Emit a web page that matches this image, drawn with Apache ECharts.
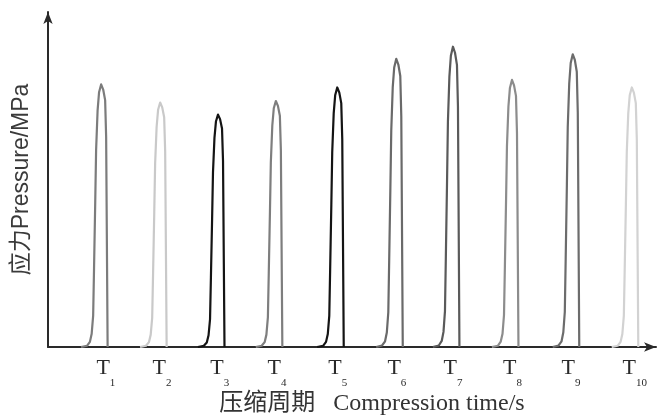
<!DOCTYPE html>
<html>
<head>
<meta charset="utf-8">
<script src="https://cdn.jsdelivr.net/npm/echarts@6/dist/echarts.min.js"></script>
<style>
html,body{margin:0;padding:0;background:#fff;}
#chart{width:664px;height:416px;}
</style>
</head>
<body>
<div id="chart"></div>
<script>
// Category labels (cycles) and where they sit on the time axis
var cycleLabels = ['1','2','3','4','5','6','7','8','9','10'];
var labelTimes = [0.98, 1.93, 2.91, 3.88, 4.91, 5.91, 6.86, 7.87, 8.86, 9.94];

// Pulse colours (grey shades)
var pulseColors = ['#7c7c7c','#c9c9c9','#141414','#7e7e7e','#141414','#6a6a6a','#5a5a5a','#8c8c8c','#6c6c6c','#d2d2d2'];

// Time (s) and pressure values of each pulse
var t1  = [0.56,0.66,0.71,0.74,0.765,0.78,0.80,0.815,0.84,0.865,0.90,0.935,0.968,0.985,1.01];
var p1  = [0,0.4,1.7,4.4,10.4,26.1,47.9,65.3,78.3,84.4,87,85.3,81.8,69.6,0];
var t2  = [1.56,1.66,1.71,1.74,1.765,1.78,1.80,1.815,1.84,1.865,1.90,1.935,1.968,1.985,2.01];
var p2  = [0,0.4,1.6,4.1,9.7,24.3,44.6,60.8,72.9,78.6,81,79.4,76.1,64.8,0];
var t3  = [2.54,2.64,2.69,2.72,2.745,2.76,2.78,2.795,2.82,2.845,2.88,2.915,2.948,2.965,2.99];
var p3  = [0,0.4,1.5,3.9,9.2,23.1,42.4,57.8,69.3,74.7,77,75.5,72.4,61.6,0];
var t4  = [3.52,3.62,3.67,3.70,3.725,3.74,3.76,3.775,3.80,3.825,3.86,3.895,3.928,3.945,3.97];
var p4  = [0,0.4,1.6,4.1,9.8,24.5,44.8,61.1,73.4,79.1,81.5,79.9,76.6,65.2,0];
var t5  = [4.56,4.66,4.71,4.74,4.765,4.78,4.80,4.815,4.84,4.865,4.90,4.935,4.968,4.985,5.01];
var p5  = [0,0.4,1.7,4.3,10.3,25.8,47.3,64.5,77.4,83.4,86,84.3,80.8,68.8,0];
var t6  = [5.56,5.66,5.71,5.74,5.765,5.78,5.80,5.815,5.84,5.865,5.90,5.935,5.968,5.985,6.01];
var p6  = [0,0.5,1.9,4.8,11.5,28.7,52.5,71.6,86.0,92.6,95.5,93.6,89.8,76.4,0];
var t7  = [6.52,6.62,6.67,6.70,6.725,6.74,6.76,6.775,6.80,6.825,6.86,6.895,6.928,6.945,6.97];
var p7  = [0,0.5,2.0,5.0,11.9,29.9,54.7,74.6,89.6,96.5,99.5,97.5,93.5,79.6,0];
var t8  = [7.52,7.62,7.67,7.70,7.725,7.74,7.76,7.775,7.80,7.825,7.86,7.895,7.928,7.945,7.97];
var p8  = [0,0.4,1.8,4.4,10.6,26.6,48.7,66.4,79.7,85.8,88.5,86.7,83.2,70.8,0];
var t9  = [8.55,8.65,8.70,8.73,8.755,8.77,8.79,8.805,8.83,8.855,8.89,8.925,8.958,8.975,9.00];
var p9  = [0,0.5,1.9,4.9,11.6,29.1,53.4,72.8,87.3,94.1,97,95.1,91.2,77.6,0];
var t10 = [9.55,9.65,9.70,9.73,9.755,9.77,9.79,9.805,9.83,9.855,9.89,9.925,9.958,9.975,10.00];
var p10 = [0,0.4,1.7,4.3,10.3,25.8,47.3,64.5,77.4,83.4,86,84.3,80.8,68.8,0];

var pulseTimes = [t1,t2,t3,t4,t5,t6,t7,t8,t9,t10];
var pulsePressures = [p1,p2,p3,p4,p5,p6,p7,p8,p9,p10];

var series = pulseTimes.map(function (ts, i) {
  return {
    type: 'line',
    data: ts.map(function (t, j) { return [t, pulsePressures[i][j]]; }),
    showSymbol: false,
    smooth: false,
    silent: true,
    lineStyle: { color: pulseColors[i], width: 2.2, join: 'round' },
    z: 3
  };
});

var chart = echarts.init(document.getElementById('chart'), null, { renderer: 'canvas' });
chart.setOption({
  animation: false,
  backgroundColor: '#ffffff',
  grid: { left: 48, right: 8, top: 12, bottom: 69, containLabel: false, outerBoundsMode: 'none' },
  xAxis: {
    type: 'value',
    min: 0,
    max: 10.3,
    name: '压缩周期   Compression time/s',
    nameLocation: 'middle',
    nameGap: 45,
    nameMoveOverlap: false,
    nameTextStyle: {
      fontFamily: '"Liberation Serif", "Noto Sans CJK SC", serif',
      fontSize: 24,
      color: '#333',
      padding: [0, 0, 0, 40]
    },
    axisLine: {
      show: true,
      symbol: ['none', 'arrow'],
      symbolSize: [7, 12],
      lineStyle: { color: '#2a2a2a', width: 2 }
    },
    axisTick: { show: false },
    splitLine: { show: false },
    axisLabel: {
      show: true,
      customValues: labelTimes,
      margin: 15,
      formatter: function (v) {
        var idx = 0, best = 1e9;
        for (var k = 0; k < labelTimes.length; k++) {
          var d = Math.abs(labelTimes[k] - v);
          if (d < best) { best = d; idx = k; }
        }
        return '{t|T}{s|' + cycleLabels[idx] + '}';
      },
      rich: {
        t: { fontFamily: '"Liberation Serif", serif', fontSize: 22, lineHeight: 22, color: '#2a2a2a', padding: [0, 0, 10, 0] },
        s: { fontFamily: '"Liberation Serif", serif', fontSize: 11, lineHeight: 11, color: '#2a2a2a', padding: [21, 0, 0, 0] }
      }
    }
  },
  yAxis: {
    type: 'value',
    min: 0,
    max: 111,
    name: '应力Pressure/MPa',
    nameLocation: 'middle',
    nameRotate: 90,
    nameGap: 15,
    nameMoveOverlap: false,
    nameTextStyle: {
      fontFamily: '"Liberation Sans", "Noto Sans CJK SC", sans-serif',
      fontSize: 23,
      color: '#3a3a3a'
    },
    axisLine: {
      show: true,
      symbol: ['none', 'arrow'],
      symbolSize: [7, 12],
      lineStyle: { color: '#2a2a2a', width: 2 }
    },
    axisTick: { show: false },
    axisLabel: { show: false },
    splitLine: { show: false }
  },
  series: series
});
</script>
</body>
</html>
